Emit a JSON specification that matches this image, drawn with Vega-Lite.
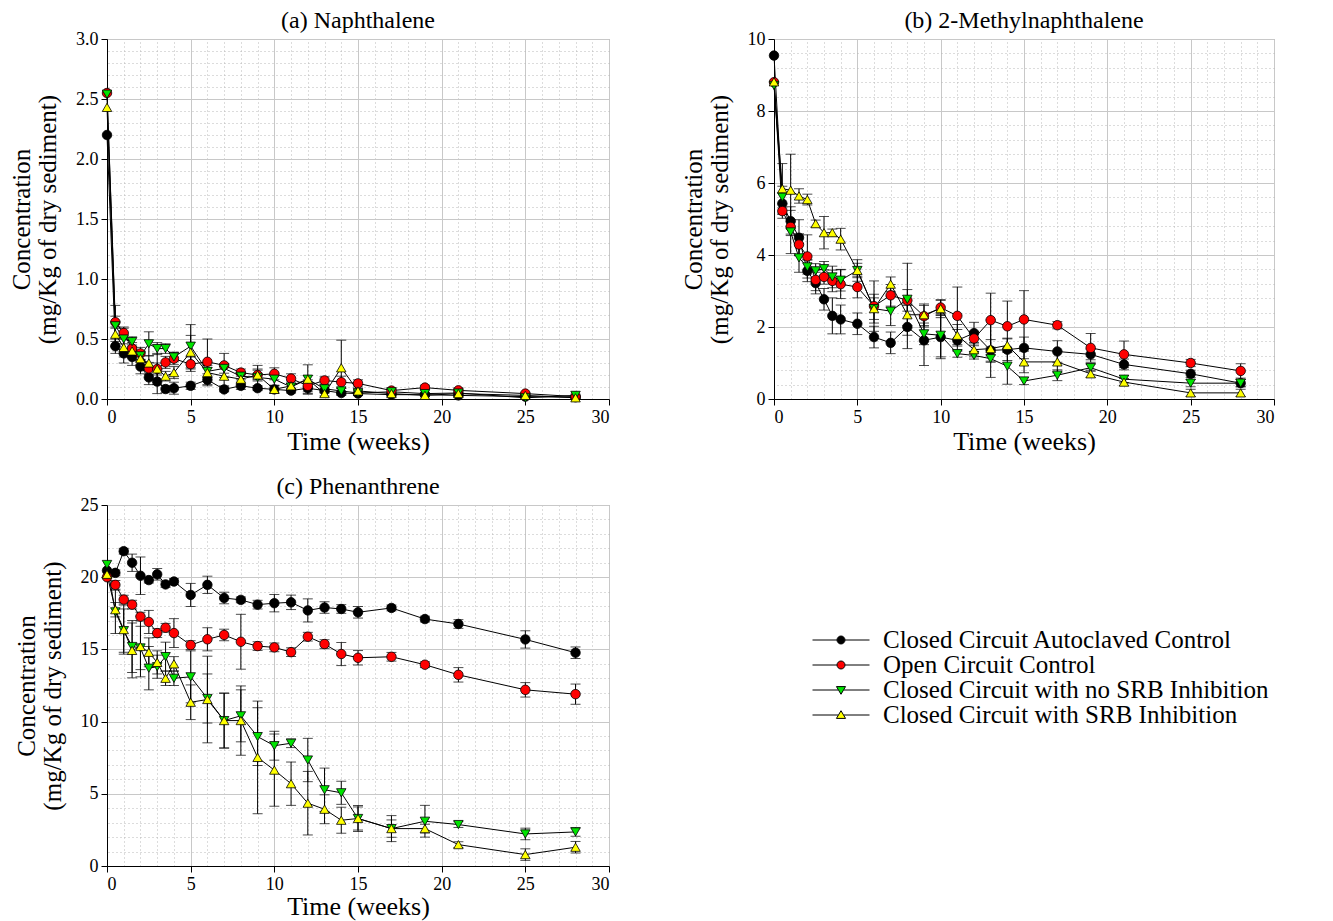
{
"$schema": "https://vega.github.io/schema/vega-lite/v6.json",
"padding": {"left": 9, "top": 8, "right": 5, "bottom": 3},
"background": "white",
"config": {
 "font": "Liberation Serif",
 "view": {"stroke": "#a0a0a0", "strokeWidth": 1},
 "axis": {"labelFont": "Liberation Serif", "titleFont": "Liberation Serif", "labelFontSize": 18, "titleFontSize": 25, "titleFontWeight": "normal", "labelColor": "#000", "titleColor": "#000", "domainColor": "#000", "tickColor": "#000", "tickSize": 6, "labelPadding": 3, "gridColor": "#c8c8c8", "gridWidth": 1, "titleLineHeight": 26},
 "title": {"font": "Liberation Serif", "fontSize": 24, "fontWeight": "normal", "color": "#000", "offset": -3}
},
"datasets": {
"series": [{"name": "Closed Circuit Autoclaved Control"}, {"name": "Open Circuit Control"}, {"name": "Closed Circuit with no SRB Inhibition"}, {"name": "Closed Circuit with SRB Inhibition"}],
"pah": [
{"p":"a","s":"A","t":0,"v":2.2,"e":0},{"p":"a","s":"A","t":0.5,"v":0.44,"e":0.06},{"p":"a","s":"A","t":1,"v":0.38,"e":0.08},{"p":"a","s":"A","t":1.5,"v":0.35,"e":0.07},{"p":"a","s":"A","t":2,"v":0.27,"e":0.06},{"p":"a","s":"A","t":2.5,"v":0.18,"e":0.06},{"p":"a","s":"A","t":3,"v":0.145,"e":0.1},{"p":"a","s":"A","t":3.5,"v":0.083,"e":0.03},{"p":"a","s":"A","t":4,"v":0.09,"e":0.05},{"p":"a","s":"A","t":5,"v":0.11,"e":0.03},{"p":"a","s":"A","t":6,"v":0.16,"e":0.05},{"p":"a","s":"A","t":7,"v":0.08,"e":0.02},{"p":"a","s":"A","t":8,"v":0.11,"e":0.03},{"p":"a","s":"A","t":9,"v":0.09,"e":0.02},{"p":"a","s":"A","t":10,"v":0.08,"e":0.03},{"p":"a","s":"A","t":11,"v":0.07,"e":0.02},{"p":"a","s":"A","t":12,"v":0.09,"e":0.05},{"p":"a","s":"A","t":13,"v":0.07,"e":0.02},{"p":"a","s":"A","t":14,"v":0.05,"e":0.01},{"p":"a","s":"A","t":15,"v":0.045,"e":0.01},{"p":"a","s":"A","t":17,"v":0.036,"e":0.01},{"p":"a","s":"A","t":19,"v":0.036,"e":0.01},{"p":"a","s":"A","t":21,"v":0.03,"e":0.01},{"p":"a","s":"A","t":25,"v":0.02,"e":0.01},{"p":"a","s":"A","t":28,"v":0.015,"e":0.01},
{"p":"a","s":"O","t":0,"v":2.55,"e":0},{"p":"a","s":"O","t":0.5,"v":0.64,"e":0.05},{"p":"a","s":"O","t":1,"v":0.55,"e":0.05},{"p":"a","s":"O","t":1.5,"v":0.42,"e":0.05},{"p":"a","s":"O","t":2,"v":0.38,"e":0.05},{"p":"a","s":"O","t":2.5,"v":0.255,"e":0.05},{"p":"a","s":"O","t":3,"v":0.25,"e":0.05},{"p":"a","s":"O","t":3.5,"v":0.305,"e":0.05},{"p":"a","s":"O","t":4,"v":0.336,"e":0.05},{"p":"a","s":"O","t":5,"v":0.29,"e":0.06},{"p":"a","s":"O","t":6,"v":0.31,"e":0.19},{"p":"a","s":"O","t":7,"v":0.28,"e":0.1},{"p":"a","s":"O","t":8,"v":0.22,"e":0.03},{"p":"a","s":"O","t":9,"v":0.2,"e":0.05},{"p":"a","s":"O","t":10,"v":0.21,"e":0.05},{"p":"a","s":"O","t":11,"v":0.17,"e":0.04},{"p":"a","s":"O","t":12,"v":0.11,"e":0.05},{"p":"a","s":"O","t":13,"v":0.155,"e":0.03},{"p":"a","s":"O","t":14,"v":0.14,"e":0.05},{"p":"a","s":"O","t":15,"v":0.13,"e":0.03},{"p":"a","s":"O","t":17,"v":0.07,"e":0.02},{"p":"a","s":"O","t":19,"v":0.095,"e":0.02},{"p":"a","s":"O","t":21,"v":0.072,"e":0.02},{"p":"a","s":"O","t":25,"v":0.045,"e":0.01},{"p":"a","s":"O","t":28,"v":0.02,"e":0.01},
{"p":"a","s":"N","t":0,"v":2.54,"e":0},{"p":"a","s":"N","t":0.5,"v":0.61,"e":0.17},{"p":"a","s":"N","t":1,"v":0.5,"e":0.09},{"p":"a","s":"N","t":1.5,"v":0.478,"e":0.04},{"p":"a","s":"N","t":2,"v":0.36,"e":0.04},{"p":"a","s":"N","t":2.5,"v":0.46,"e":0.1},{"p":"a","s":"N","t":3,"v":0.42,"e":0.05},{"p":"a","s":"N","t":3.5,"v":0.42,"e":0.04},{"p":"a","s":"N","t":4,"v":0.35,"e":0.04},{"p":"a","s":"N","t":5,"v":0.44,"e":0.18},{"p":"a","s":"N","t":6,"v":0.23,"e":0.05},{"p":"a","s":"N","t":7,"v":0.255,"e":0.04},{"p":"a","s":"N","t":8,"v":0.19,"e":0.03},{"p":"a","s":"N","t":9,"v":0.18,"e":0.1},{"p":"a","s":"N","t":10,"v":0.165,"e":0.05},{"p":"a","s":"N","t":11,"v":0.1,"e":0.03},{"p":"a","s":"N","t":12,"v":0.165,"e":0.03},{"p":"a","s":"N","t":13,"v":0.085,"e":0.03},{"p":"a","s":"N","t":14,"v":0.067,"e":0.02},{"p":"a","s":"N","t":15,"v":0.05,"e":0.02},{"p":"a","s":"N","t":17,"v":0.06,"e":0.02},{"p":"a","s":"N","t":19,"v":0.045,"e":0.01},{"p":"a","s":"N","t":21,"v":0.05,"e":0.01},{"p":"a","s":"N","t":25,"v":0.01,"e":0.01},{"p":"a","s":"N","t":28,"v":0.03,"e":0.01},
{"p":"a","s":"S","t":0,"v":2.43,"e":0},{"p":"a","s":"S","t":0.5,"v":0.54,"e":0.06},{"p":"a","s":"S","t":1,"v":0.43,"e":0.08},{"p":"a","s":"S","t":1.5,"v":0.4,"e":0.05},{"p":"a","s":"S","t":2,"v":0.336,"e":0.05},{"p":"a","s":"S","t":2.5,"v":0.3,"e":0.06},{"p":"a","s":"S","t":3,"v":0.25,"e":0.13},{"p":"a","s":"S","t":3.5,"v":0.19,"e":0.04},{"p":"a","s":"S","t":4,"v":0.22,"e":0.05},{"p":"a","s":"S","t":5,"v":0.39,"e":0.14},{"p":"a","s":"S","t":6,"v":0.22,"e":0.04},{"p":"a","s":"S","t":7,"v":0.19,"e":0.08},{"p":"a","s":"S","t":8,"v":0.165,"e":0.04},{"p":"a","s":"S","t":9,"v":0.2,"e":0.04},{"p":"a","s":"S","t":10,"v":0.08,"e":0.03},{"p":"a","s":"S","t":11,"v":0.11,"e":0.04},{"p":"a","s":"S","t":12,"v":0.165,"e":0.12},{"p":"a","s":"S","t":13,"v":0.045,"e":0.02},{"p":"a","s":"S","t":14,"v":0.26,"e":0.23},{"p":"a","s":"S","t":15,"v":0.067,"e":0.02},{"p":"a","s":"S","t":17,"v":0.045,"e":0.01},{"p":"a","s":"S","t":19,"v":0.03,"e":0.01},{"p":"a","s":"S","t":21,"v":0.045,"e":0.01},{"p":"a","s":"S","t":25,"v":0.03,"e":0.01},{"p":"a","s":"S","t":28,"v":0.01,"e":0.01},
{"p":"b","s":"A","t":0,"v":9.54,"e":0},{"p":"b","s":"A","t":0.5,"v":5.43,"e":0.3},{"p":"b","s":"A","t":1,"v":4.94,"e":0.4},{"p":"b","s":"A","t":1.5,"v":4.48,"e":0.5},{"p":"b","s":"A","t":2,"v":3.56,"e":0.3},{"p":"b","s":"A","t":2.5,"v":3.22,"e":0.3},{"p":"b","s":"A","t":3,"v":2.77,"e":0.3},{"p":"b","s":"A","t":3.5,"v":2.31,"e":0.5},{"p":"b","s":"A","t":4,"v":2.21,"e":0.4},{"p":"b","s":"A","t":5,"v":2.09,"e":0.3},{"p":"b","s":"A","t":6,"v":1.72,"e":0.3},{"p":"b","s":"A","t":7,"v":1.56,"e":0.3},{"p":"b","s":"A","t":8,"v":2.0,"e":0.6},{"p":"b","s":"A","t":9,"v":1.63,"e":0.7},{"p":"b","s":"A","t":10,"v":1.72,"e":0.6},{"p":"b","s":"A","t":11,"v":1.63,"e":0.3},{"p":"b","s":"A","t":12,"v":1.83,"e":0.3},{"p":"b","s":"A","t":13,"v":1.35,"e":0.3},{"p":"b","s":"A","t":14,"v":1.37,"e":0.3},{"p":"b","s":"A","t":15,"v":1.42,"e":0.3},{"p":"b","s":"A","t":17,"v":1.32,"e":0.3},{"p":"b","s":"A","t":19,"v":1.24,"e":0.15},{"p":"b","s":"A","t":21,"v":0.96,"e":0.15},{"p":"b","s":"A","t":25,"v":0.7,"e":0.1},{"p":"b","s":"A","t":28,"v":0.44,"e":0.1},
{"p":"b","s":"O","t":0,"v":8.8,"e":0},{"p":"b","s":"O","t":0.5,"v":5.22,"e":0.2},{"p":"b","s":"O","t":1,"v":4.78,"e":0.2},{"p":"b","s":"O","t":1.5,"v":4.29,"e":0.3},{"p":"b","s":"O","t":2,"v":3.96,"e":0.6},{"p":"b","s":"O","t":2.5,"v":3.31,"e":0.3},{"p":"b","s":"O","t":3,"v":3.39,"e":0.2},{"p":"b","s":"O","t":3.5,"v":3.28,"e":0.3},{"p":"b","s":"O","t":4,"v":3.19,"e":0.4},{"p":"b","s":"O","t":5,"v":3.11,"e":0.3},{"p":"b","s":"O","t":6,"v":2.58,"e":0.7},{"p":"b","s":"O","t":7,"v":2.88,"e":0.3},{"p":"b","s":"O","t":8,"v":2.74,"e":0.3},{"p":"b","s":"O","t":9,"v":2.3,"e":0.3},{"p":"b","s":"O","t":10,"v":2.54,"e":0.2},{"p":"b","s":"O","t":11,"v":2.31,"e":0.8},{"p":"b","s":"O","t":12,"v":1.68,"e":0.2},{"p":"b","s":"O","t":13,"v":2.19,"e":0.75},{"p":"b","s":"O","t":14,"v":2.02,"e":0.7},{"p":"b","s":"O","t":15,"v":2.21,"e":0.8},{"p":"b","s":"O","t":17,"v":2.05,"e":0.1},{"p":"b","s":"O","t":19,"v":1.42,"e":0.4},{"p":"b","s":"O","t":21,"v":1.24,"e":0.37},{"p":"b","s":"O","t":25,"v":1.0,"e":0.1},{"p":"b","s":"O","t":28,"v":0.78,"e":0.2},
{"p":"b","s":"N","t":0,"v":8.71,"e":0},{"p":"b","s":"N","t":0.5,"v":5.61,"e":0.3},{"p":"b","s":"N","t":1,"v":4.64,"e":0.6},{"p":"b","s":"N","t":1.5,"v":3.92,"e":0.4},{"p":"b","s":"N","t":2,"v":3.67,"e":0.2},{"p":"b","s":"N","t":2.5,"v":3.56,"e":0.2},{"p":"b","s":"N","t":3,"v":3.62,"e":0.2},{"p":"b","s":"N","t":3.5,"v":3.39,"e":0.3},{"p":"b","s":"N","t":4,"v":3.3,"e":0.3},{"p":"b","s":"N","t":5,"v":3.57,"e":0.3},{"p":"b","s":"N","t":6,"v":2.51,"e":0.4},{"p":"b","s":"N","t":7,"v":2.44,"e":0.4},{"p":"b","s":"N","t":8,"v":2.77,"e":1.0},{"p":"b","s":"N","t":9,"v":1.81,"e":0.3},{"p":"b","s":"N","t":10,"v":1.77,"e":0.6},{"p":"b","s":"N","t":11,"v":1.26,"e":0.1},{"p":"b","s":"N","t":12,"v":1.21,"e":0.1},{"p":"b","s":"N","t":13,"v":1.12,"e":0.1},{"p":"b","s":"N","t":14,"v":0.91,"e":0.5},{"p":"b","s":"N","t":15,"v":0.5,"e":0.1},{"p":"b","s":"N","t":17,"v":0.66,"e":0.15},{"p":"b","s":"N","t":19,"v":0.87,"e":0.1},{"p":"b","s":"N","t":21,"v":0.55,"e":0.1},{"p":"b","s":"N","t":25,"v":0.44,"e":0.1},{"p":"b","s":"N","t":28,"v":0.44,"e":0.1},
{"p":"b","s":"S","t":0,"v":8.81,"e":0},{"p":"b","s":"S","t":0.5,"v":5.84,"e":0.7},{"p":"b","s":"S","t":1,"v":5.8,"e":1.0},{"p":"b","s":"S","t":1.5,"v":5.64,"e":0.2},{"p":"b","s":"S","t":2,"v":5.54,"e":0.15},{"p":"b","s":"S","t":2.5,"v":4.87,"e":0.1},{"p":"b","s":"S","t":3,"v":4.62,"e":0.45},{"p":"b","s":"S","t":3.5,"v":4.62,"e":0.1},{"p":"b","s":"S","t":4,"v":4.44,"e":0.3},{"p":"b","s":"S","t":5,"v":3.57,"e":0.2},{"p":"b","s":"S","t":6,"v":2.51,"e":0.3},{"p":"b","s":"S","t":7,"v":3.19,"e":0.2},{"p":"b","s":"S","t":8,"v":2.34,"e":0.3},{"p":"b","s":"S","t":9,"v":2.34,"e":0.3},{"p":"b","s":"S","t":10,"v":2.51,"e":0.25},{"p":"b","s":"S","t":11,"v":1.77,"e":0.3},{"p":"b","s":"S","t":12,"v":1.37,"e":0.2},{"p":"b","s":"S","t":13,"v":1.4,"e":0.8},{"p":"b","s":"S","t":14,"v":1.49,"e":0.2},{"p":"b","s":"S","t":15,"v":1.03,"e":0.3},{"p":"b","s":"S","t":17,"v":1.03,"e":0.3},{"p":"b","s":"S","t":19,"v":0.7,"e":0.1},{"p":"b","s":"S","t":21,"v":0.47,"e":0.1},{"p":"b","s":"S","t":25,"v":0.17,"e":0.1},{"p":"b","s":"S","t":28,"v":0.17,"e":0.1},
{"p":"c","s":"A","t":0,"v":20.46,"e":0},{"p":"c","s":"A","t":0.5,"v":20.3,"e":0.2},{"p":"c","s":"A","t":1,"v":21.8,"e":0.2},{"p":"c","s":"A","t":1.5,"v":21.0,"e":0.6},{"p":"c","s":"A","t":2,"v":20.1,"e":1.3},{"p":"c","s":"A","t":2.5,"v":19.8,"e":0.2},{"p":"c","s":"A","t":3,"v":20.2,"e":0.4},{"p":"c","s":"A","t":3.5,"v":19.5,"e":0.2},{"p":"c","s":"A","t":4,"v":19.7,"e":0.2},{"p":"c","s":"A","t":5,"v":18.77,"e":0.8},{"p":"c","s":"A","t":6,"v":19.47,"e":0.6},{"p":"c","s":"A","t":7,"v":18.56,"e":0.4},{"p":"c","s":"A","t":8,"v":18.43,"e":0.2},{"p":"c","s":"A","t":9,"v":18.1,"e":0.3},{"p":"c","s":"A","t":10,"v":18.2,"e":0.6},{"p":"c","s":"A","t":11,"v":18.26,"e":0.5},{"p":"c","s":"A","t":12,"v":17.7,"e":0.8},{"p":"c","s":"A","t":13,"v":17.9,"e":0.4},{"p":"c","s":"A","t":14,"v":17.8,"e":0.3},{"p":"c","s":"A","t":15,"v":17.57,"e":0.4},{"p":"c","s":"A","t":17,"v":17.87,"e":0.2},{"p":"c","s":"A","t":19,"v":17.1,"e":0.2},{"p":"c","s":"A","t":21,"v":16.76,"e":0.3},{"p":"c","s":"A","t":25,"v":15.69,"e":0.6},{"p":"c","s":"A","t":28,"v":14.77,"e":0.4},
{"p":"c","s":"O","t":0,"v":20.0,"e":0},{"p":"c","s":"O","t":0.5,"v":19.47,"e":0.3},{"p":"c","s":"O","t":1,"v":18.45,"e":0.3},{"p":"c","s":"O","t":1.5,"v":18.1,"e":0.3},{"p":"c","s":"O","t":2,"v":17.27,"e":0.3},{"p":"c","s":"O","t":2.5,"v":16.9,"e":0.8},{"p":"c","s":"O","t":3,"v":16.13,"e":0.3},{"p":"c","s":"O","t":3.5,"v":16.5,"e":0.3},{"p":"c","s":"O","t":4,"v":16.13,"e":1.0},{"p":"c","s":"O","t":5,"v":15.3,"e":0.3},{"p":"c","s":"O","t":6,"v":15.7,"e":0.8},{"p":"c","s":"O","t":7,"v":16.0,"e":0.4},{"p":"c","s":"O","t":8,"v":15.53,"e":1.9},{"p":"c","s":"O","t":9,"v":15.23,"e":0.3},{"p":"c","s":"O","t":10,"v":15.14,"e":0.3},{"p":"c","s":"O","t":11,"v":14.81,"e":0.3},{"p":"c","s":"O","t":12,"v":15.88,"e":0.3},{"p":"c","s":"O","t":13,"v":15.37,"e":0.3},{"p":"c","s":"O","t":14,"v":14.68,"e":0.8},{"p":"c","s":"O","t":15,"v":14.42,"e":0.5},{"p":"c","s":"O","t":17,"v":14.49,"e":0.3},{"p":"c","s":"O","t":19,"v":13.94,"e":0.2},{"p":"c","s":"O","t":21,"v":13.24,"e":0.5},{"p":"c","s":"O","t":25,"v":12.2,"e":0.5},{"p":"c","s":"O","t":28,"v":11.9,"e":0.7},
{"p":"c","s":"N","t":0,"v":20.88,"e":0},{"p":"c","s":"N","t":0.5,"v":17.6,"e":1.5},{"p":"c","s":"N","t":1,"v":16.3,"e":1.5},{"p":"c","s":"N","t":1.5,"v":15.2,"e":1.8},{"p":"c","s":"N","t":2,"v":15.1,"e":1.5},{"p":"c","s":"N","t":2.5,"v":13.7,"e":1.5},{"p":"c","s":"N","t":3,"v":13.8,"e":0.8},{"p":"c","s":"N","t":3.5,"v":14.5,"e":1.0},{"p":"c","s":"N","t":4,"v":13.0,"e":0.5},{"p":"c","s":"N","t":5,"v":13.1,"e":1.8},{"p":"c","s":"N","t":6,"v":11.6,"e":1.7},{"p":"c","s":"N","t":7,"v":10.07,"e":1.9},{"p":"c","s":"N","t":8,"v":10.4,"e":1.8},{"p":"c","s":"N","t":9,"v":8.96,"e":2.0},{"p":"c","s":"N","t":10,"v":8.33,"e":1.0},{"p":"c","s":"N","t":11,"v":8.5,"e":0.3},{"p":"c","s":"N","t":12,"v":7.34,"e":1.5},{"p":"c","s":"N","t":13,"v":5.28,"e":1.5},{"p":"c","s":"N","t":14,"v":5.07,"e":0.8},{"p":"c","s":"N","t":15,"v":3.29,"e":0.9},{"p":"c","s":"N","t":17,"v":2.59,"e":0.6},{"p":"c","s":"N","t":19,"v":3.1,"e":1.1},{"p":"c","s":"N","t":21,"v":2.87,"e":0.2},{"p":"c","s":"N","t":25,"v":2.22,"e":0.4},{"p":"c","s":"N","t":28,"v":2.36,"e":0.3},
{"p":"c","s":"S","t":0,"v":20.2,"e":0},{"p":"c","s":"S","t":0.5,"v":17.75,"e":0.5},{"p":"c","s":"S","t":1,"v":16.37,"e":1.7},{"p":"c","s":"S","t":1.5,"v":14.93,"e":1.9},{"p":"c","s":"S","t":2,"v":15.2,"e":2.1},{"p":"c","s":"S","t":2.5,"v":14.8,"e":1.0},{"p":"c","s":"S","t":3,"v":14.1,"e":0.8},{"p":"c","s":"S","t":3.5,"v":13.0,"e":0.5},{"p":"c","s":"S","t":4,"v":14.0,"e":0.5},{"p":"c","s":"S","t":5,"v":11.34,"e":1.2},{"p":"c","s":"S","t":6,"v":11.53,"e":3.0},{"p":"c","s":"S","t":7,"v":10.07,"e":1.9},{"p":"c","s":"S","t":8,"v":10.07,"e":2.4},{"p":"c","s":"S","t":9,"v":7.52,"e":3.9},{"p":"c","s":"S","t":10,"v":6.64,"e":2.5},{"p":"c","s":"S","t":11,"v":5.7,"e":1.5},{"p":"c","s":"S","t":12,"v":4.35,"e":2.2},{"p":"c","s":"S","t":13,"v":3.93,"e":1.0},{"p":"c","s":"S","t":14,"v":3.17,"e":0.9},{"p":"c","s":"S","t":15,"v":3.29,"e":0.8},{"p":"c","s":"S","t":17,"v":2.59,"e":0.9},{"p":"c","s":"S","t":19,"v":2.59,"e":0.3},{"p":"c","s":"S","t":21,"v":1.48,"e":0.2},{"p":"c","s":"S","t":25,"v":0.79,"e":0.4},{"p":"c","s":"S","t":28,"v":1.3,"e":0.4}
]
},
"spacing": 19,
"vconcat": [
{"spacing": 70, "hconcat": [
 {"title": "(a) Naphthalene", "width": 502, "height": 360,
  "data": {"name": "pah"}, "transform": [{"filter": "datum.p === 'a'"}],
  "layer": [
   {"mark": {"type": "line", "color": "black", "strokeWidth": 1},
    "encoding": {
     "x": {"field": "t", "type": "quantitative", "scale": {"domain": [0, 30], "nice": false}, "axis": {"orient": "bottom", "values": [0,5,10,15,20,25,30], "title": "Time (weeks)", "titlePadding": 2, "titleFontSize": 26}},
     "y": {"field": "v", "type": "quantitative", "scale": {"domain": [0, 3], "nice": false}, "axis": {"orient": "left", "values": [0,0.5,1,1.5,2,2.5,3], "format": ".1f", "title": ["Concentration", "(mg/Kg of dry sediment)"], "titlePadding": 15}},
     "detail": {"field": "s"}}},
   {"transform": [{"filter": "datum.e > 0"}],
    "mark": {"type": "errorbar", "color": "black", "ticks": {"size": 10}},
    "encoding": {"x": {"field": "t", "type": "quantitative", "axis": null}, "y": {"field": "v", "type": "quantitative", "axis": null}, "yError": {"field": "e"}}},
   {"mark": {"type": "point", "filled": true, "stroke": "black", "strokeWidth": 0.8, "size": 90, "opacity": 1},
    "encoding": {
     "x": {"field": "t", "type": "quantitative", "axis": {"orient": "top", "values": [1,2,3,4,6,7,8,9,11,12,13,14,16,17,18,19,21,22,23,24,26,27,28,29], "grid": true, "gridDash": [1, 3], "gridColor": "#b8b8b8", "labels": false, "ticks": false, "domain": false, "title": null}},
     "y": {"field": "v", "type": "quantitative", "axis": {"orient": "right", "values": [0.1,0.2,0.3,0.4,0.6,0.7,0.8,0.9,1.1,1.2,1.3,1.4,1.6,1.7,1.8,1.9,2.1,2.2,2.3,2.4,2.6,2.7,2.8,2.9], "grid": true, "gridDash": [1, 3], "gridColor": "#b8b8b8", "labels": false, "ticks": false, "domain": false, "title": null}},
     "shape": {"field": "s", "type": "nominal", "scale": {"domain": ["A","O","N","S"], "range": ["circle","circle","triangle-down","triangle-up"]}, "legend": null},
     "fill": {"field": "s", "type": "nominal", "scale": {"domain": ["A","O","N","S"], "range": ["#000000","#ff0000","#00e400","#ffff00"]}, "legend": null}}}
  ],
  "resolve": {"axis": {"x": "independent", "y": "independent"}}},
 {"title": "(b) 2-Methylnaphthalene", "width": 500, "height": 360,
  "data": {"name": "pah"}, "transform": [{"filter": "datum.p === 'b'"}],
  "layer": [
   {"mark": {"type": "line", "color": "black", "strokeWidth": 1},
    "encoding": {
     "x": {"field": "t", "type": "quantitative", "scale": {"domain": [0, 30], "nice": false}, "axis": {"orient": "bottom", "values": [0,5,10,15,20,25,30], "title": "Time (weeks)", "titlePadding": 2, "titleFontSize": 26}},
     "y": {"field": "v", "type": "quantitative", "scale": {"domain": [0, 10], "nice": false}, "axis": {"orient": "left", "values": [0,2,4,6,8,10], "format": "d", "title": ["Concentration", "(mg/Kg of dry sediment)"], "titlePadding": 15}},
     "detail": {"field": "s"}}},
   {"transform": [{"filter": "datum.e > 0"}],
    "mark": {"type": "errorbar", "color": "black", "ticks": {"size": 10}},
    "encoding": {"x": {"field": "t", "type": "quantitative", "axis": null}, "y": {"field": "v", "type": "quantitative", "axis": null}, "yError": {"field": "e"}}},
   {"mark": {"type": "point", "filled": true, "stroke": "black", "strokeWidth": 0.8, "size": 90, "opacity": 1},
    "encoding": {
     "x": {"field": "t", "type": "quantitative", "axis": {"orient": "top", "values": [1,2,3,4,6,7,8,9,11,12,13,14,16,17,18,19,21,22,23,24,26,27,28,29], "grid": true, "gridDash": [1, 3], "gridColor": "#b8b8b8", "labels": false, "ticks": false, "domain": false, "title": null}},
     "y": {"field": "v", "type": "quantitative", "axis": {"orient": "right", "values": [0.4,0.8,1.2,1.6,2.4,2.8,3.2,3.6,4.4,4.8,5.2,5.6,6.4,6.8,7.2,7.6,8.4,8.8,9.2,9.6], "grid": true, "gridDash": [1, 3], "gridColor": "#b8b8b8", "labels": false, "ticks": false, "domain": false, "title": null}},
     "shape": {"field": "s", "type": "nominal", "scale": {"domain": ["A","O","N","S"], "range": ["circle","circle","triangle-down","triangle-up"]}, "legend": null},
     "fill": {"field": "s", "type": "nominal", "scale": {"domain": ["A","O","N","S"], "range": ["#000000","#ff0000","#00e400","#ffff00"]}, "legend": null}}}
  ],
  "resolve": {"axis": {"x": "independent", "y": "independent"}}}
]},
{"hconcat": [
 {"title": "(c) Phenanthrene", "width": 502, "height": 361,
  "layer": [
   {"data": {"name": "pah"}, "transform": [{"filter": "datum.p === 'c'"}],
    "mark": {"type": "line", "color": "black", "strokeWidth": 1},
    "encoding": {
     "x": {"field": "t", "type": "quantitative", "scale": {"domain": [0, 30], "nice": false}, "axis": {"orient": "bottom", "values": [0,5,10,15,20,25,30], "title": "Time (weeks)", "titlePadding": 0, "titleFontSize": 26}},
     "y": {"field": "v", "type": "quantitative", "scale": {"domain": [0, 25], "nice": false}, "axis": {"orient": "left", "values": [0,5,10,15,20,25], "format": "d", "title": ["Concentration", "(mg/Kg of dry sediment)"], "titlePadding": 15}},
     "detail": {"field": "s"}}},
   {"data": {"name": "pah"}, "transform": [{"filter": "datum.p === 'c' && datum.e > 0"}],
    "mark": {"type": "errorbar", "color": "black", "ticks": {"size": 10}},
    "encoding": {"x": {"field": "t", "type": "quantitative", "axis": null}, "y": {"field": "v", "type": "quantitative", "axis": null}, "yError": {"field": "e"}}},
   {"data": {"name": "pah"}, "transform": [{"filter": "datum.p === 'c'"}],
    "mark": {"type": "point", "filled": true, "stroke": "black", "strokeWidth": 0.8, "size": 90, "opacity": 1},
    "encoding": {
     "x": {"field": "t", "type": "quantitative", "axis": {"orient": "top", "values": [1,2,3,4,6,7,8,9,11,12,13,14,16,17,18,19,21,22,23,24,26,27,28,29], "grid": true, "gridDash": [1, 3], "gridColor": "#b8b8b8", "labels": false, "ticks": false, "domain": false, "title": null}},
     "y": {"field": "v", "type": "quantitative", "axis": {"orient": "right", "values": [1,2,3,4,6,7,8,9,11,12,13,14,16,17,18,19,21,22,23,24], "grid": true, "gridDash": [1, 3], "gridColor": "#b8b8b8", "labels": false, "ticks": false, "domain": false, "title": null}},
     "shape": {"field": "s", "type": "nominal", "scale": {"domain": ["A","O","N","S"], "range": ["circle","circle","triangle-down","triangle-up"]}, "legend": null},
     "fill": {"field": "s", "type": "nominal", "scale": {"domain": ["A","O","N","S"], "range": ["#000000","#ff0000","#00e400","#ffff00"]}, "legend": null}}},
   {"data": {"name": "series"},
    "mark": {"type": "point", "filled": true, "opacity": 0, "stroke": "black", "strokeWidth": 1},
    "encoding": {
     "shape": {"field": "name", "type": "nominal",
       "scale": {"domain": ["Closed Circuit Autoclaved Control", "Open Circuit Control", "Closed Circuit with no SRB Inhibition", "Closed Circuit with SRB Inhibition"],
                 "range": ["M-1,0L-0.14,0M0.14,0L1,0M0.14,0A0.14,0.14,0,1,1,-0.14,0A0.14,0.14,0,1,1,0.14,0Z", "M-1,0L-0.14,0M0.14,0L1,0M0.14,0A0.14,0.14,0,1,1,-0.14,0A0.14,0.14,0,1,1,0.14,0Z", "M-1,0L-0.1,0M0.1,0L1,0M-0.16,-0.12L0.16,-0.12L0,0.15Z", "M-1,0L-0.1,0M0.1,0L1,0M-0.16,0.12L0.16,0.12L0,-0.15Z"]},
       "legend": {"orient": "none", "legendX": 705, "legendY": 123, "title": null, "labelFont": "Liberation Serif", "labelFontSize": 25, "labelColor": "#000", "labelLimit": 700, "labelOffset": 13, "symbolSize": 3249, "symbolStrokeColor": "#000", "symbolStrokeWidth": 1, "symbolOpacity": 1, "clipHeight": 24, "rowPadding": 0, "padding": 0,
         "encode": {"symbols": {"update": {"stroke": {"value": "#000000"}, "strokeWidth": {"value": 1}, "strokeOpacity": {"value": 1}}}}}},
     "fill": {"field": "name", "type": "nominal",
       "scale": {"domain": ["Closed Circuit Autoclaved Control", "Open Circuit Control", "Closed Circuit with no SRB Inhibition", "Closed Circuit with SRB Inhibition"], "range": ["#000000","#ff0000","#00e400","#ffff00"]},
       "legend": {"orient": "none", "legendX": 705, "legendY": 123, "title": null, "labelFont": "Liberation Serif", "labelFontSize": 25, "labelColor": "#000", "labelLimit": 700, "labelOffset": 13, "symbolSize": 3249, "symbolStrokeColor": "#000", "symbolStrokeWidth": 1, "symbolOpacity": 1, "clipHeight": 24, "rowPadding": 0, "padding": 0,
         "encode": {"symbols": {"update": {"stroke": {"value": "#000000"}, "strokeWidth": {"value": 1}, "strokeOpacity": {"value": 1}}}}}}}}
  ],
  "resolve": {"axis": {"x": "independent", "y": "independent"}, "scale": {"shape": "independent", "fill": "independent"}}}
]}
]
}
